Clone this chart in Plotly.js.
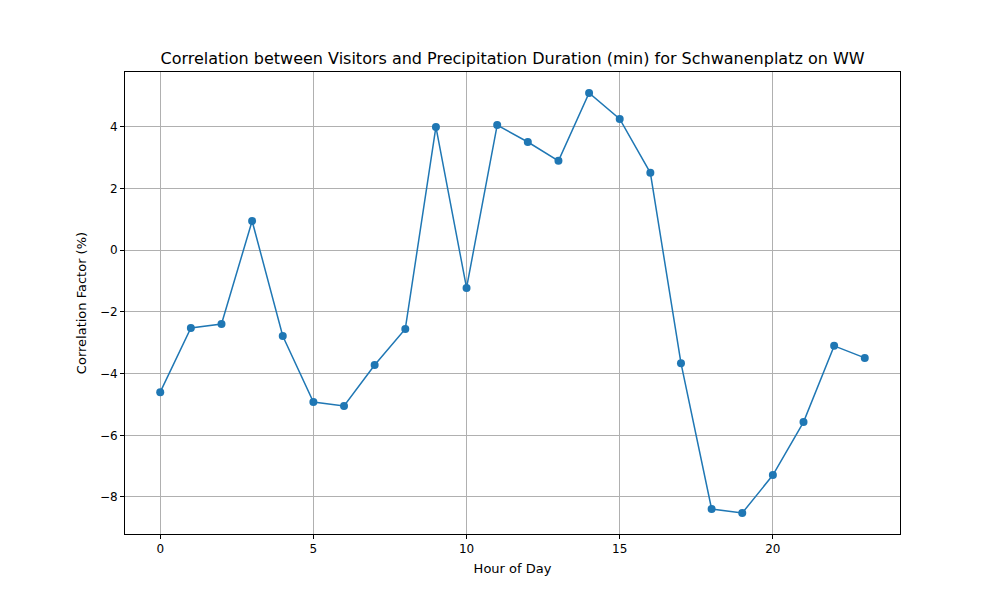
<!DOCTYPE html>
<html>
<head>
<script src="https://cdn.plot.ly/plotly-3.0.1.min.js"></script>
<style>body{margin:0}</style>
</head>
<body>
<div id="myDiv" style="width:1000px;height:600px"></div>
<script>
// hours of the day and correlation values
const hours = [0,1,2,3,4,5,6,7,8,9,10,11,12,13,14,15,16,17,18,19,20,21,22,23];
const corr = [-4.60,-2.52,-2.39,0.95,-2.78,-4.92,-5.05,-3.72,-2.55,4.00,-1.22,4.06,
              3.51,2.90,5.10,4.26,2.51,-3.66,-8.39,-8.52,-7.29,-5.57,-3.10,-3.49];

let trace = {
    x: hours,
    y: corr,
    mode: 'lines+markers',
    line: {color: '#1f77b4', width: 1.5},
    marker: {color: '#1f77b4', size: 8}
};

let axisStyle = {
    showgrid: true, gridcolor: '#b0b0b0', gridwidth: 1,
    zeroline: false, showline: true, mirror: true,
    linecolor: 'black', linewidth: 1,
    ticks: 'outside', ticklen: 4, tickcolor: 'black',
    tickfont: {size: 12, color: 'black'}
};

let layout = {
    width: 1000, height: 600,
    margin: {l: 125, r: 100, t: 72, b: 66},
    paper_bgcolor: 'white', plot_bgcolor: 'white',
    font: {family: 'DejaVu Sans', color: 'black'},
    showlegend: false,
    title: {text: 'Correlation between Visitors and Precipitation Duration (min) for Schwanenplatz on WW',
            font: {size: 16}, x: 0.5125, xanchor: 'center', y: 0.903, yanchor: 'middle'},
    xaxis: Object.assign({}, axisStyle, {
        range: [-1.15, 24.15], tickvals: [0, 5, 10, 15, 20],
        title: {text: 'Hour of Day', font: {size: 13}, standoff: 8}
    }),
    yaxis: Object.assign({}, axisStyle, {
        range: [-9.2, 5.78], tickvals: [-8, -6, -4, -2, 0, 2, 4],
        ticktext: ['\u22128', '\u22126', '\u22124', '\u22122', '0', '2', '4'],
        title: {text: 'Correlation Factor (%)', font: {size: 13}, standoff: 10}
    })
};

Plotly.newPlot('myDiv', [trace], layout, {displayModeBar: false});
</script>
</body>
</html>
